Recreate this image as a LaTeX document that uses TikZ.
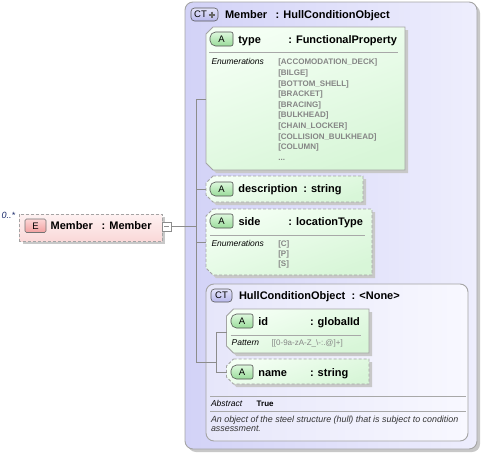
\documentclass[tikz,border=0pt]{standalone}
\usepackage{fontspec}
\setmainfont{Liberation Sans}
\definecolor{enumc}{HTML}{858585}
\definecolor{connc}{HTML}{8C8C8C}
\definecolor{sepc}{HTML}{A8A8A8}
\definecolor{boxc}{HTML}{A4A4A4}
\definecolor{shadc}{HTML}{C8C8C8}
\definecolor{greenT}{HTML}{F4FFF4}
\definecolor{greenB}{HTML}{D8F6D8}
\definecolor{abT}{HTML}{DDF8DD}
\definecolor{abB}{HTML}{9ADC9A}
\definecolor{badgec}{HTML}{505050}
\definecolor{ctL}{HTML}{D2D2F7}
\definecolor{ctR}{HTML}{EEEEFD}
\definecolor{ctiL}{HTML}{E6E6FA}
\definecolor{ctiR}{HTML}{F8F8FF}
\definecolor{ctbT}{HTML}{E4E4FA}
\definecolor{ctbB}{HTML}{B8B8EC}
\definecolor{pinkT}{HTML}{FEF2F2}
\definecolor{pinkB}{HTML}{FAD8D8}
\definecolor{ebT}{HTML}{FCD6D6}
\definecolor{ebB}{HTML}{F2A0A0}
\definecolor{occ}{HTML}{1A2A6A}
\newcommand\chamferbox[5]{%
  \fill[shad] ({#2+7+3},{#3+3}) -- ({#4+3},{#3+3}) -- ({#4+3},{#5+3}) -- ({#2+7+3},{#5+3}) -- ({#2+3},{#5-7+3}) -- ({#2+3},{#3+7+3}) -- cycle;
  \draw[#1] ({#2+7},#3) -- (#4,#3) -- (#4,#5) -- ({#2+7},#5) -- (#2,{#5-7}) -- (#2,{#3+7}) -- cycle;}
\newcommand\mybadge[7]{%
  \draw[#2] ({#3+3.5},#4) -- (#5,#4) -- (#5,#6) -- ({#3+3.5},#6) -- (#3,{#6-3.5}) -- (#3,{#4+3.5}) -- cycle;
  \node[btext] (#1) at ({(#3+#5)/2},{(#4+#6)/2}) {#7};}
\begin{document}
\begin{tikzpicture}[x=1pt,y=-1pt,
  t/.style={anchor=base west,inner sep=0pt,outer sep=0pt},
  hb/.style={t,font=\fontsize{11}{12}\selectfont\bfseries},
  enum/.style={t,font=\fontsize{8}{9}\selectfont\bfseries,text=enumc},
  pat/.style={t,font=\fontsize{8}{9}\selectfont,text=enumc},
  lbl/.style={t,font=\fontsize{8.5}{10}\selectfont\itshape},
  val/.style={t,font=\fontsize{8}{10}\selectfont\bfseries},
  desc/.style={t,font=\fontsize{8.9}{10}\selectfont\itshape,text=black!80},
  conn/.style={draw=connc,line width=0.8pt},
  sep/.style={draw=sepc,line width=0.8pt},
  shad/.style={fill=shadc},
  greenbox/.style={draw=boxc,line width=0.9pt,top color=greenT,bottom color=greenB,shading angle=20},
  optbox/.style={greenbox,dash pattern=on 3pt off 2pt},
  abadge/.style={draw=badgec,line width=0.6pt,rounded corners=2pt,top color=abT,bottom color=abB},
  btext/.style={inner sep=0pt,font=\fontsize{9.5}{10}\selectfont},
]
\useasboundingbox (0,0) rectangle (482,455);

% ---------- outer complex type ----------
\fill[shad,rounded corners=8pt] (188,5) rectangle (480,452);
\draw[draw=boxc,line width=0.9pt,left color=ctL,right color=ctR,rounded corners=8pt] (185,2) rectangle (477,449);
\draw[draw=black!65,line width=0.6pt,rounded corners=3.5pt,top color=ctbT,bottom color=ctbB] (191,8) rectangle (218,21);
\node[btext] (ctplusT) at (200.5,14.6) {CT};
\draw[line width=2pt,draw=black!60] (208.5,14.6) -- (214.5,14.6) (211.5,11.6) -- (211.5,17.6);
\node[hb] (outName) at (225,18.5) {Member};
\node[hb] (outType) at (275.7,18.5) {: HullConditionObject};

% ---------- type attribute ----------
\chamferbox{greenbox}{206}{27}{405}{170}
\mybadge{aType}{abadge}{210}{32}{233}{46}{A}
\node[hb] (typeName) at (238.3,43) {type};
\node[hb] (typeType) at (288.3,43) {: FunctionalProperty};
\draw[sep] (209,52.7) -- (398,52.7);
\node[lbl] (typeEnumL) at (211.5,64.5) {Enumerations};
\node[enum] (te1) at (278.3,64.7) {[ACCOMODATION\_DECK]};
\node[enum] (te2) at (278.3,75.35) {[BILGE]};
\node[enum] (te3) at (278.3,86.0) {[BOTTOM\_SHELL]};
\node[enum] (te4) at (278.3,96.65) {[BRACKET]};
\node[enum] (te5) at (278.3,107.3) {[BRACING]};
\node[enum] (te6) at (278.3,117.95) {[BULKHEAD]};
\node[enum] (te7) at (278.3,128.6) {[CHAIN\_LOCKER]};
\node[enum] (te8) at (278.3,139.25) {[COLLISION\_BULKHEAD]};
\node[enum] (te9) at (278.3,149.9) {[COLUMN]};
\node[enum] (te10) at (278.3,160.55) {...};

% ---------- description attribute ----------
\chamferbox{optbox}{206}{176}{363}{202}
\mybadge{aDesc}{abadge}{210}{182}{233}{196}{A}
\node[hb] (descName) at (238.3,192.7) {description};
\node[hb] (descType) at (303.3,192.7) {: string};

% ---------- side attribute ----------
\chamferbox{optbox}{206}{209}{372}{275}
\mybadge{aSide}{abadge}{210}{214}{233}{228}{A}
\node[hb] (sideName) at (238.5,225) {side};
\node[hb] (sideType) at (288.3,225) {: locationType};
\draw[sep] (210,235.3) -- (365,235.3);
\node[lbl] (sideEnumL) at (211.5,246) {Enumerations};
\node[enum] (sc) at (278.3,246) {[C]};
\node[enum] (sp) at (278.3,256.4) {[P]};
\node[enum] (ss) at (278.3,266.8) {[S]};

% ---------- inner complex type ----------
\draw[draw=boxc,line width=0.9pt,left color=ctiL,right color=ctiR,rounded corners=8pt] (206,284) rectangle (468,441);
\draw[draw=black!65,line width=0.6pt,rounded corners=3.5pt,top color=ctbT,bottom color=ctbB] (211,289) rectangle (232,302);
\node[btext] (ctInnerT) at (221.5,295.5) {CT};
\node[hb] (inName) at (239,299.3) {HullConditionObject};
\node[hb] (inType) at (351.7,299.3) {: <None>};

% id
\chamferbox{greenbox}{226.5}{309}{369}{353}
\mybadge{aId}{abadge}{231}{314}{253}{328}{A}
\node[hb] (idName) at (258.3,325) {id};
\node[hb] (idType) at (310,325) {: globalId};
\draw[sep] (230.7,335) -- (361,335);
\node[lbl] (patL) at (231.7,345.7) {Pattern};
\node[pat] (patV) at (271.7,345.7) {[[0-9a-zA-Z\_\textbackslash-:.@]+]};

% name
\chamferbox{optbox}{226.5}{359}{369}{384}
\mybadge{aName}{abadge}{231}{365}{253}{379}{A}
\node[hb] (nmName) at (258.3,376) {name};
\node[hb] (nmType) at (310,376) {: string};

% abstract / documentation
\draw[sep] (210,396) -- (465.7,396);
\node[lbl] (absL) at (211,406) {Abstract};
\node[val] (absV) at (256.7,406) {True};
\draw[sep] (210,411.7) -- (465.7,411.7);
\node[desc] (doc1) at (211,422.3) {An object of the steel structure (hull) that is subject to condition};
\node[desc] (doc2) at (211,431.7) {assessment.};

% ---------- element ----------
\node[t,font=\fontsize{9}{10}\selectfont\itshape,text=occ] (occ) at (1.7,218.3) {0..*};
\fill[shad] (22.5,217) rectangle (165,244);
\draw[draw=boxc,line width=0.9pt,dash pattern=on 3pt off 2pt,top color=pinkT,bottom color=pinkB] (19.5,214) rectangle (162,241);
\draw[draw=black!55,line width=0.6pt,rounded corners=1.5pt,top color=ebT,bottom color=ebB] (25,219) rectangle (46,232.5);
\node[btext] (eB) at (35.5,225.8) {E};
\node[hb] (elName) at (50.7,229.3) {Member};
\node[hb] (elType) at (101.7,229.3) {: Member};
\node[draw=connc,fill=white,line width=0.7pt,minimum size=9pt,inner sep=0pt] (minus) at (167,226.7) {};
\draw[draw=connc,line width=0.7pt] (minus.west) ++(2,0) -- ++(5,0);

% ---------- connectors ----------
\coordinate (jm) at (196,226.7);
\coordinate (vtop) at (196,99);
\coordinate (vd) at (196,189);
\coordinate (vs) at (196,242);
\coordinate (vbot) at (196,362);
\coordinate (typeW) at (206,99);
\coordinate (descW) at (206,189);
\coordinate (sideW) at (206,242);
\coordinate (ij) at (216,362);
\coordinate (itop) at (216,332);
\coordinate (ibot) at (216,372);
\coordinate (idW) at (226.5,332);
\coordinate (nameW) at (226.5,372);
\draw[conn] (minus.east) -- (jm);
\draw[conn] (typeW) -- (vtop) -- (vbot) -- (ij);
\draw[conn] (vd) -- (descW);
\draw[conn] (vs) -- (sideW);
\draw[conn] (idW) -- (itop) -- (ibot) -- (nameW);
\end{tikzpicture}
\end{document}
